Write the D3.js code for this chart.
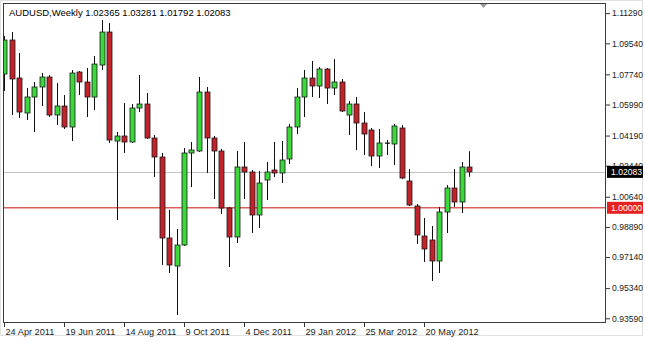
<!DOCTYPE html>
<html>
<head>
<meta charset="utf-8">
<script src="https://cdn.jsdelivr.net/npm/d3@7"></script>
<style>
  body { margin: 0; background: #fff; }
  svg text { font-family: "Liberation Sans", Arial, sans-serif; }
</style>
</head>
<body>
<svg id="chart" width="645" height="341"></svg>
<script>
// Weekly bars, first one starts 24 Apr 2011
var firstWeek = "2011-04-24"
var opens = [1.0776, 1.09732, 1.07528, 1.05498, 1.06426, 1.07006, 1.07586, 1.05382, 1.05904, 1.04686,
  1.07876, 1.07296, 1.06426, 1.08282, 1.10196, 1.03874, 1.04164, 1.03816, 1.05788, 1.0602,
  1.04048, 1.02946, 0.98248, 0.96624, 0.97842, 1.03178, 1.03294, 1.06716, 1.04048, 1.03294,
  0.99988, 0.98306, 1.02366, 1.02076, 0.99582, 1.01612, 1.02192, 1.02018, 1.0283, 1.04686,
  1.06426, 1.07528, 1.07064, 1.0805, 1.06948, 1.07296, 1.05382, 1.0602, 1.04918, 1.04512,
  1.03004, 1.0375, 1.037, 1.04628, 1.01554, 1.00104, 0.98364, 0.98132, 0.96914, 0.99756,
  1.01148, 1.00336, 1.02365]
var highs = [1.09964, 1.10196, 1.08978, 1.06948, 1.07296, 1.07818, 1.07702, 1.07238, 1.06542, 1.07992,
  1.07934, 1.08108, 1.08804, 1.10892, 1.10718, 1.04396, 1.06078, 1.0602, 1.07702, 1.06658,
  1.04222, 1.03178, 0.99872, 0.9877, 1.03468, 1.03816, 1.07586, 1.07006, 1.04164, 1.0341,
  1.00046, 1.03294, 1.03816, 1.02192, 1.02134, 1.02656, 1.03816, 1.03874, 1.0486, 1.06948,
  1.07992, 1.08514, 1.08166, 1.08108, 1.0863, 1.0747, 1.06194, 1.06426, 1.05556, 1.04628,
  1.0457, 1.03932, 1.0486, 1.04802, 1.0225, 1.0022, 0.99408, 0.98944, 1.00046, 1.01322,
  1.0225, 1.02656, 1.03281]
var lows = [1.06774, 1.05382, 1.05208, 1.05092, 1.04396, 1.05904, 1.05266, 1.04802, 1.0457, 1.03874,
  1.06542, 1.05266, 1.05672, 1.07992, 1.03758, 0.99292, 1.03178, 1.03758, 1.05556, 1.0399,
  1.01786, 0.96682, 0.96218, 0.93782, 0.97784, 1.01206, 1.03236, 1.02018, 1.0051, 0.9964,
  0.96566, 0.97958, 1.0051, 0.98538, 0.98828, 1.00452, 1.01786, 1.01438, 1.0254, 1.0428,
  1.05266, 1.06426, 1.06368, 1.0602, 1.06542, 1.05556, 1.04222, 1.03352, 1.03062, 1.02424,
  1.02308, 1.03062, 1.02482, 1.0167, 1.00104, 0.979, 0.96856, 0.95754, 0.96218, 0.98538,
  1.00046, 0.99698, 1.01792]
var closes = [1.09732, 1.0747, 1.05556, 1.06426, 1.07006, 1.07586, 1.05382, 1.05904, 1.04686, 1.07818,
  1.07296, 1.06426, 1.0834, 1.10196, 1.03932, 1.04164, 1.03816, 1.05788, 1.0602, 1.04048,
  1.02946, 0.98248, 0.96682, 0.97842, 1.03178, 1.03352, 1.06716, 1.04048, 1.03294, 0.99988,
  0.98306, 1.02366, 1.02076, 0.99582, 1.01438, 1.02076, 1.02018, 1.02772, 1.04686, 1.06426,
  1.07528, 1.07064, 1.0805, 1.06948, 1.07296, 1.05614, 1.0602, 1.04918, 1.0428, 1.03004,
  1.03758, 1.0375, 1.04744, 1.01728, 1.00162, 0.98422, 0.9761, 0.96914, 0.99756, 1.01148,
  1.00336, 1.02366, 1.02083]

var priceTicks = [1.1129, 1.0954, 1.0774, 1.0599, 1.0419, 1.0244, 1.0064, 0.9889, 0.9714, 0.9534, 0.9359]
var dateTicks = ["2011-04-24", "2011-06-19", "2011-08-14", "2011-10-09", "2011-12-04", "2012-01-29", "2012-03-25", "2012-05-20"]
var levelLine = 1.0
var title = "AUDUSD,Weekly  1.02365 1.03281 1.01792 1.02083"

var svg = d3.select("#chart")
var plot = {left: 3, top: 3, right: 605, bottom: 322}
var parseDay = d3.timeParse("%Y-%m-%d")

var bars = opens.map(function(o, i) {
  return {
    date: d3.timeDay.offset(parseDay(firstWeek), 7 * i),
    o: o, h: highs[i], l: lows[i], c: closes[i]
  }
})

// Scales
var xScale = d3.scaleTime()
  .domain([bars[0].date, bars[bars.length - 1].date])
  .range([4, 469])
var yScale = d3.scaleLinear()
  .domain([0.93376, 1.11879])
  .range([plot.bottom, plot.top])

// Frame
svg.append("rect")
  .attr("x", 0.5).attr("y", 0.5).attr("width", 642).attr("height", 335)
  .attr("fill", "none").attr("stroke", "#e2e2e2")

svg.append("clipPath").attr("id", "clip").append("rect")
  .attr("x", plot.left).attr("y", plot.top)
  .attr("width", plot.right - plot.left).attr("height", plot.bottom - plot.top)

var canvas = svg.append("g").attr("clip-path", "url(#clip)")

// Horizontal lines: last close and 1.0000 level
var last = closes[closes.length - 1]
canvas.append("line")
  .attr("x1", plot.left).attr("x2", plot.right)
  .attr("y1", Math.round(yScale(last)) + 0.5).attr("y2", Math.round(yScale(last)) + 0.5)
  .attr("stroke", "#c4c4c4").attr("stroke-width", 1)
canvas.append("line")
  .attr("x1", plot.left).attr("x2", plot.right)
  .attr("y1", yScale(levelLine)).attr("y2", yScale(levelLine))
  .attr("stroke", "#d9605c").attr("stroke-width", 1.5)

// Candles
var candle = canvas.selectAll("g.candle").data(bars).enter().append("g").attr("class", "candle")
candle.append("line")
  .attr("x1", d => Math.round(xScale(d.date)) + 0.5)
  .attr("x2", d => Math.round(xScale(d.date)) + 0.5)
  .attr("y1", d => yScale(d.h))
  .attr("y2", d => yScale(d.l))
  .attr("stroke", "#111").attr("stroke-width", 1)
candle.filter(d => d.o != d.c).append("rect")
  .attr("x", d => Math.round(xScale(d.date)) - 2)
  .attr("width", 5)
  .attr("y", d => yScale(Math.max(d.o, d.c)))
  .attr("height", d => Math.max(1, yScale(Math.min(d.o, d.c)) - yScale(Math.max(d.o, d.c))))
  .attr("fill", d => d.c > d.o ? "#3bd83b" : "#c4222a")
  .attr("stroke", "#1a1a1a").attr("stroke-width", 0.8)
candle.filter(d => d.o == d.c).append("line")
  .attr("x1", d => Math.round(xScale(d.date)) - 2)
  .attr("x2", d => Math.round(xScale(d.date)) + 3)
  .attr("y1", d => yScale(d.c)).attr("y2", d => yScale(d.c))
  .attr("stroke", "#111").attr("stroke-width", 1.2)

// Plot border
svg.append("rect")
  .attr("x", plot.left + 0.5).attr("y", plot.top + 0.5)
  .attr("width", plot.right - plot.left).attr("height", plot.bottom - plot.top)
  .attr("fill", "none").attr("stroke", "#3c3c3c").attr("stroke-width", 1)

// Shift marker
svg.append("path")
  .attr("d", "M480,4 L487,4 L483.5,8 Z")
  .attr("fill", "#9a9a9a")

// Title
svg.append("text")
  .attr("x", 9).attr("y", 16)
  .attr("font-size", "9.5px").attr("fill", "#000")
  .text(title)

// Price axis
var yAxis = d3.axisRight(yScale)
  .tickValues(priceTicks)
  .tickFormat(d3.format(".5f"))
  .tickSize(4)
  .tickPadding(2)
var gy = svg.append("g")
  .attr("transform", "translate(" + (plot.right + 1) + ",0)")
  .call(yAxis)
gy.select(".domain").remove()
gy.selectAll("line").attr("stroke", "#333")
gy.selectAll("text").attr("font-size", "8.6px").attr("fill", "#222")
  .attr("font-family", "Liberation Sans, Arial, sans-serif")

// Price markers on the axis
var markers = [
  {v: last, bg: "#000"},
  {v: levelLine, bg: "#e5221f"}
]
var mk = svg.selectAll("g.marker").data(markers).enter().append("g")
mk.append("rect")
  .attr("x", 607).attr("y", d => yScale(d.v) - 6)
  .attr("width", 36).attr("height", 12)
  .attr("fill", d => d.bg)
mk.append("text")
  .attr("x", 611).attr("y", d => yScale(d.v) + 3.5)
  .attr("font-size", "8.6px").attr("fill", "#fff")
  .text(d => d3.format(".5f")(d.v))

// Time axis
var xAxis = d3.axisBottom(xScale)
  .tickValues(dateTicks.map(parseDay))
  .tickFormat(d3.timeFormat("%-d %b %Y"))
  .tickSize(4)
  .tickPadding(1)
var gx = svg.append("g")
  .attr("transform", "translate(0," + (plot.bottom + 1) + ")")
  .call(xAxis)
gx.select(".domain").remove()
gx.selectAll("line").attr("stroke", "#333")
gx.selectAll("text")
  .attr("text-anchor", "start").attr("x", 1)
  .attr("font-size", "9.2px").attr("fill", "#222")
  .attr("font-family", "Liberation Sans, Arial, sans-serif")
</script>
</body>
</html>
